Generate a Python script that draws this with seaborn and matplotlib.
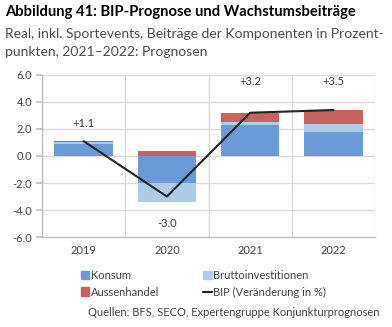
import matplotlib
matplotlib.use("Agg")
import matplotlib.pyplot as plt
import seaborn as sns
import numpy as np
import pandas as pd
from matplotlib.patches import Patch
from matplotlib.lines import Line2D

years = ["2019", "2020", "2021", "2022"]
konsum = [0.9, -2.0, 2.3, 1.8]
brutto = [0.1, -1.4, 0.2, 0.6]
aussen = [0.1, 0.4, 0.7, 1.0]
bip = [1.1, -3.0, 3.2, 3.4]
bip_labels = ["+1.1", "-3.0", "+3.2", "+3.5"]
yticks = [-6.0, -4.0, -2.0, 0.0, 2.0, 4.0, 6.0]

series_names = ["Konsum", "Bruttoinvestitionen", "Aussenhandel"]
series_vals = [konsum, brutto, aussen]
colors = ["#6A9BD8", "#AECBEA", "#C9625C"]

sns.set_theme(style="white")
plt.rcParams['font.family'] = ['Lato', 'DejaVu Sans']

fig = plt.figure(figsize=(3.92, 3.27), dpi=100)
ax = fig.add_axes([0.107, 0.275, 0.85, 0.496])

pos_base = np.zeros(len(years))
neg_base = np.zeros(len(years))
for name, vals, col in zip(series_names, series_vals, colors):
    vals = np.array(vals)
    bottoms = np.where(vals >= 0, pos_base, neg_base)
    df = pd.DataFrame({"Jahr": years, "Wert": vals})
    sns.barplot(data=df, x="Jahr", y="Wert", bottom=bottoms, color=col,
                width=0.7, saturation=1, ax=ax, linewidth=0, zorder=2)
    pos_base = pos_base + np.where(vals >= 0, vals, 0)
    neg_base = neg_base + np.where(vals < 0, vals, 0)

dfl = pd.DataFrame({"x": np.arange(len(years)), "BIP": bip})
sns.lineplot(data=dfl, x="x", y="BIP", color="#222222", linewidth=1.5, ax=ax, zorder=3)

label_y = [2.4, -5.0, 5.5, 5.5]
for i, (lab, yv) in enumerate(zip(bip_labels, label_y)):
    ax.text(i, yv, lab, ha="center", va="center", fontsize=8, color="#333333")

ax.set_ylim(-6, 6)
ax.set_xlim(-0.5, 3.5)
ax.set_yticks(yticks)
ax.set_yticklabels([f"{v:.1f}" for v in yticks])
ax.set_xticks(range(len(years)))
ax.set_xticklabels(years)
ax.set_xticks([-0.5, 0.5, 1.5, 2.5, 3.5], minor=True)
ax.grid(True, which="major", axis="y", color="#D9D9D9", linewidth=1, zorder=0)
ax.grid(True, which="minor", axis="x", color="#D9D9D9", linewidth=1, zorder=0)
ax.set_axisbelow(True)
ax.set_xlabel("")
ax.set_ylabel("")
ax.tick_params(axis="both", which="major", labelsize=8, labelcolor="#404040", length=0, pad=6)
ax.tick_params(axis="y", which="major", length=4, color="#BFBFBF", direction="out", pad=3, left=True)
for s in ["top", "right"]:
    ax.spines[s].set_visible(False)
for s in ["left", "bottom"]:
    ax.spines[s].set_color("#BFBFBF")
    ax.spines[s].set_linewidth(1)

fig.text(0.012, 0.962, "Abbildung 41: BIP-Prognose und Wachstumsbeiträge",
         fontsize=10.6, fontweight="bold", color="#000000", ha="left", va="center")
fig.text(0.012, 0.895, "Real, inkl. Sportevents, Beiträge der Komponenten in Prozent-",
         fontsize=10, color="#4A4A4A", ha="left", va="center")
fig.text(0.012, 0.84, "punkten, 2021–2022: Prognosen",
         fontsize=10, color="#4A4A4A", ha="left", va="center")

handles = [Patch(color=colors[0]), Patch(color=colors[2]), Patch(color=colors[1]),
           Line2D([0], [0], color="#222222", linewidth=1.5)]
labels = ["Konsum", "Aussenhandel", "Bruttoinvestitionen", "BIP (Veränderung in %)"]
fig.legend(handles, labels, ncol=2, loc="center left", bbox_to_anchor=(0.18, 0.132),
           frameon=False, fontsize=8, handlelength=0.8, handleheight=0.8,
           handletextpad=0.1, columnspacing=4.0, labelspacing=0.5, labelcolor="#404040")

fig.text(0.225, 0.045, "Quellen: BFS, SECO, Expertengruppe Konjunkturprognosen",
         fontsize=8, color="#404040", ha="left", va="center")

fig.savefig("out.png", dpi=100)
